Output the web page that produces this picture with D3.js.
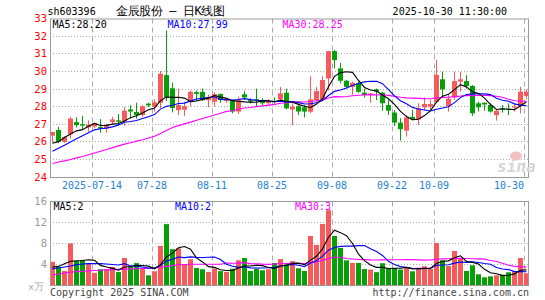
<!DOCTYPE html>
<html><head><meta charset="utf-8">
<script src="https://cdn.jsdelivr.net/npm/d3@7"></script>
<style>body{margin:0;background:#fff}svg{display:block}text{font-family:"DejaVu Sans Mono",monospace}</style>
</head><body><svg id="c" width="545" height="300"></svg>
<script>
// ---- data ----
const dates = ["2025-07-03","2025-07-04","2025-07-07","2025-07-08","2025-07-09","2025-07-10","2025-07-11","2025-07-14","2025-07-15","2025-07-16","2025-07-17","2025-07-18","2025-07-21","2025-07-22","2025-07-23","2025-07-24","2025-07-25","2025-07-28","2025-07-29","2025-07-30","2025-07-31",
"2025-08-01","2025-08-04","2025-08-05","2025-08-06","2025-08-07","2025-08-08","2025-08-11","2025-08-12","2025-08-13","2025-08-14","2025-08-15","2025-08-18","2025-08-19","2025-08-20","2025-08-21","2025-08-22","2025-08-25","2025-08-26","2025-08-27","2025-08-28","2025-08-29",
"2025-09-01","2025-09-02","2025-09-03","2025-09-04","2025-09-05","2025-09-08","2025-09-09","2025-09-10","2025-09-11","2025-09-12","2025-09-15","2025-09-16","2025-09-17","2025-09-18","2025-09-19","2025-09-22","2025-09-23","2025-09-24","2025-09-25","2025-09-26","2025-09-29","2025-09-30",
"2025-10-09","2025-10-10","2025-10-13","2025-10-14","2025-10-15","2025-10-16","2025-10-17","2025-10-20","2025-10-21","2025-10-22","2025-10-23","2025-10-24","2025-10-27","2025-10-28","2025-10-29","2025-10-30"];
const open  = [26.33,26.65,25.97,26.4,27.1,26.98,26.8,26.85,26.82,26.75,27.1,27.2,27.15,27.82,27.68,27.5,28.15,27.97,28.2,29.77,29.02,27.78,27.8,28.26,28.8,28.82,28.35,28.26,28.7,28.3,28.3,27.7,28.68,28.35,28.4,28.35,28.17,28.3,28.39,28.77,27.82,28.0,27.94,27.69,28.35,28.39,29.58,31.13,30.15,29.45,29.1,29.3,28.77,28.64,28.96,28.77,28.07,27.64,27.07,26.62,27.4,27.26,27.94,27.98,28.26,29.53,28.02,28.51,29.4,29.43,29.15,28.17,28.2,28.07,27.5,27.88,27.86,27.93,28.02,28.58];
const high  = [26.55,26.84,26.3,27.4,27.37,27.45,27.2,27.08,27.27,27.0,27.4,27.55,27.95,28.05,28.2,28.05,28.2,28.4,30.0,32.3,29.35,29.0,28.25,28.9,28.9,29.0,28.65,28.8,28.72,28.45,28.35,28.55,28.88,28.45,29.0,28.45,28.4,28.5,29.1,29.0,28.16,28.16,28.07,29.71,29.1,29.71,31.13,31.2,30.47,29.5,29.4,29.4,29.0,28.75,29.0,28.83,28.36,27.79,27.32,27.5,27.8,28.17,28.51,28.35,30.63,29.96,28.64,29.96,29.96,29.77,29.2,28.26,28.22,28.17,27.77,28.07,28.17,28.16,29.1,28.96];
const low   = [25.95,25.9,25.92,26.15,26.8,26.7,26.55,26.75,26.5,26.5,27.0,26.9,26.9,27.3,27.3,27.4,27.95,27.7,27.9,28.3,27.65,27.5,27.45,28.0,28.3,28.3,27.95,28.0,28.2,28.2,27.6,27.56,28.35,28.15,28.0,28.07,28.1,28.15,28.26,27.82,26.93,27.5,27.37,27.6,28.26,28.3,28.92,30.15,29.3,29.0,28.65,28.75,28.5,28.2,28.35,27.75,27.5,26.88,26.05,26.28,27.2,26.94,27.79,27.79,28.2,28.51,27.7,28.36,28.83,29.0,27.45,27.7,27.75,27.64,27.18,27.64,27.5,27.7,27.6,28.39];
const close = [26.54,25.99,26.25,27.3,26.93,26.9,26.95,27.05,26.72,26.95,27.25,27.12,27.75,27.7,27.5,28.0,28.05,28.22,29.85,28.5,27.9,28.07,28.0,28.82,28.7,28.35,28.5,28.69,28.35,28.35,27.7,28.35,28.5,28.27,28.3,28.17,28.3,28.25,28.73,27.88,27.97,27.7,27.7,28.39,28.86,29.49,31.13,30.62,29.45,29.1,29.33,28.82,28.64,28.73,28.83,28.17,27.75,27.07,26.7,27.37,27.27,27.88,28.13,28.13,29.78,28.96,28.43,29.43,29.53,29.15,27.6,27.94,28.1,27.7,27.75,27.8,27.8,27.98,28.83,28.83];
const volume = [4.47,3.5,2.74,7.97,4.6,4.8,4.15,2.36,3.06,3.06,3.5,2.52,5.22,3.56,4.23,3.34,1.9,2.68,7.5,11.65,6.88,7.05,3.9,4.96,3.3,3.05,2.54,3.2,2.7,2.55,3.17,4.76,5.2,2.73,3.17,2.86,3.05,4.25,5.0,4.0,4.6,3.24,2.73,9.4,7.68,11.68,14.3,9.4,7.1,4.76,4.25,4.25,3.1,3.0,2.5,4.2,3.2,3.3,3.0,3.4,2.67,3.37,3.62,3.17,8.06,4.76,3.68,6.54,5.08,2.73,3.81,2.1,1.52,1.71,1.9,2.03,2.48,2.73,5.2,2.29];
// moving-average values at the start of the window (earlier history not shown)
const ma5Head  = [25.9,25.99,26.23,26.42];
const ma10Head = [25.44,25.62,25.79,25.97,26.15,26.33,26.5,26.66,26.72];
const ma30Head = [24.75,24.83,24.9,24.98,25.07,25.15,25.25,25.35,25.45,25.55,25.65,25.75,25.85,25.93,26.02,26.1,26.2,26.3,26.45,26.62,26.8,26.9,27.0,27.1,27.2,27.3,27.4,27.5,27.6];
const vma5Head  = [3.5,3.6,4.1,4.57];
const vma10Head = [3.17,3.3,3.5,3.68,3.94,4.06,4.13,4.13,4.13];
const vma30Head = [1.95,2.15,2.35,2.5,2.6,2.68,2.75,2.82,2.88,2.93,2.98,3.03,3.08,3.12,3.16,3.2,3.24,3.3,3.45,3.6,3.75,3.9,3.95,4.0,4.0,4.0,4.0,4.0,4.0];
const tickDates  = ["2025-07-14","2025-07-28","2025-08-11","2025-08-25","2025-09-08","2025-09-22","2025-10-09","2025-10-30"];
const tickLabels = ["2025-07-14","07-28","08-11","08-25","09-08","09-22","10-09","10-30"];
const priceTicks = [24,25,26,27,28,29,30,31,32,33];
const volTicks = [4,8,12,16];
const priceMaLabels = ["MA5:28.20","MA10:27.99","MA30:28.25"];
const volMaLabels = ["MA5:2","MA10:2","MA30:3"];
const code = "sh603396", title = "金辰股份 – 日K线图", stamp = "2025-10-30 11:30:00";

// ---- chart ----
const svg = d3.select('#c');
const L = 50, R = 529, PT = 18.5, PB = 177, VT = 201.5, VB = 285.5;
const x = d3.scaleBand().domain(dates).range([L, R]).paddingInner(1/6).paddingOuter(0);
const bw = x.bandwidth();
const cx = d => x(d) + bw/2;
const yP = d3.scaleLinear().domain([24,33]).range([176.7,18.2]);
const yV = d3.scaleLinear().domain([0,16]).range([285.3,201.3]);
const RED = "#f65a5a", GREEN = "#079f07";
const rows = dates.map((d,i)=>({d,i,o:open[i],h:high[i],l:low[i],c:close[i],v:volume[i]}));
const colorOf = r => r.c >= r.o ? RED : GREEN;

function ma(arr, n, head){
  return arr.map((_,i)=> i < head.length ? head[i] : d3.mean(arr.slice(i-n+1,i+1)));
}

// grids
function grid(top, bottom, yScale, vals){
  const g = svg.append('g');
  g.selectAll('line.h').data(vals).join('line')
    .attr('x1',L).attr('x2',R).attr('y1',v=>Math.round(yScale(v))+0.5).attr('y2',v=>Math.round(yScale(v))+0.5)
    .attr('stroke','#aaa').attr('stroke-dasharray','1,2');
  g.selectAll('line.v').data(tickDates).join('line')
    .attr('x1',d=>Math.round(x(d))+0.5).attr('x2',d=>Math.round(x(d))+0.5).attr('y1',top).attr('y2',bottom)
    .attr('stroke','#aaa').attr('stroke-dasharray','5,4');
}
grid(PT, PB, yP, [25,26,27,28,29,30,31,32]);
grid(VT, VB, yV, [4,8,12]);

// candles
const cg = svg.append('g');
cg.selectAll('rect.w').data(rows).join('rect')
  .attr('x',r=>Math.round(cx(r.d)-0.5)).attr('width',1)
  .attr('y',r=>yP(r.h)).attr('height',r=>Math.max(1,yP(r.l)-yP(r.h)))
  .attr('fill',colorOf);
cg.selectAll('rect.b').data(rows).join('rect')
  .attr('x',r=>x(r.d)).attr('width',bw)
  .attr('y',r=>yP(Math.max(r.o,r.c))).attr('height',r=>Math.max(1,Math.abs(yP(r.o)-yP(r.c))))
  .attr('fill',colorOf);

// volume bars
svg.append('g').selectAll('rect').data(rows).join('rect')
  .attr('x',r=>x(r.d)).attr('width',bw)
  .attr('y',r=>yV(r.v)).attr('height',r=>yV(0)-yV(r.v))
  .attr('fill',colorOf);

// MA lines
function maLine(vals, yScale, color){
  const line = d3.line().x((v,i)=>cx(dates[i])).y(v=>yScale(v));
  svg.append('path').attr('d',line(vals)).attr('fill','none').attr('stroke',color).attr('stroke-width',1.1);
}
maLine(ma(close,30,ma30Head), yP, '#ff00ff');
maLine(ma(close,10,ma10Head), yP, '#0000ff');
maLine(ma(close,5,ma5Head), yP, '#000');
maLine(ma(volume,30,vma30Head), yV, '#ff00ff');
maLine(ma(volume,10,vma10Head), yV, '#0000ff');
maLine(ma(volume,5,vma5Head), yV, '#000');

// frames
svg.append('rect').attr('x',L+0.5).attr('y',PT+0.5).attr('width',R-L-1).attr('height',PB-PT).attr('fill','none').attr('stroke','#999');
svg.append('rect').attr('x',L+0.5).attr('y',VT).attr('width',R-L-1).attr('height',VB-VT).attr('fill','none').attr('stroke','#999');

// axes
const ap = svg.append('g').attr('transform','translate(47,0)')
  .call(d3.axisLeft(yP).tickValues(priceTicks).tickSize(0).tickPadding(0).tickFormat(d3.format('d')));
ap.select('.domain').remove();
ap.selectAll('text').attr('fill','#f00').attr('font-size',10.5).attr('font-family','"DejaVu Sans Mono",monospace');
const av = svg.append('g').attr('transform','translate(47,0)')
  .call(d3.axisLeft(yV).tickValues(volTicks).tickSize(0).tickPadding(0).tickFormat(d3.format('d')));
av.select('.domain').remove();
av.selectAll('text').attr('fill','#999').attr('font-size',10.5).attr('font-family','"DejaVu Sans Mono",monospace');
svg.append('text').attr('x',44).attr('y',290).attr('text-anchor','end').attr('fill','#aaa').attr('font-size',9.5)
  .attr('font-family','"Noto Sans CJK SC",sans-serif').text('x万');

const ax = svg.append('g').attr('transform',`translate(0,${PB})`)
  .call(d3.axisBottom(x).tickValues(tickDates).tickSize(0).tickPadding(5).tickFormat((d,i)=>tickLabels[i]));
ax.select('.domain').remove();
ax.selectAll('text').attr('fill','#1e7fd0').attr('font-size',10).attr('font-family','"DejaVu Sans Mono",monospace')
  .attr('x',-bw/2)
  .attr('text-anchor',(d,i)=> i===tickDates.length-1 ? 'end' : 'middle');

// labels
const maColors = ['#000','#0000ff','#ff00ff'];
const pmX = [52.5,167.5,282.5], vmX = [53.5,175,295];
priceMaLabels.forEach((t,i)=>svg.append('text').attr('x',pmX[i]).attr('y',27.5).attr('fill',maColors[i]).attr('font-size',10).text(t));
volMaLabels.forEach((t,i)=>svg.append('text').attr('x',vmX[i]).attr('y',210).attr('fill',maColors[i]).attr('font-size',10).text(t));

svg.append('text').attr('x',47.5).attr('y',15).attr('font-size',10).attr('fill','#000').text(code);
svg.append('text').attr('x',116).attr('y',14.5).attr('font-size',12).attr('fill','#000')
  .attr('font-family','"Noto Sans CJK SC",sans-serif').attr('textLength',109).attr('lengthAdjust','spacing').text(title);
svg.append('text').attr('x',507).attr('y',15).attr('text-anchor','end').attr('font-size',10).attr('fill','#000').text(stamp);

svg.append('text').attr('x',50).attr('y',296).attr('font-size',10).attr('fill','#444').text('Copyright 2025 SINA.COM');
svg.append('text').attr('x',529).attr('y',296).attr('text-anchor','end').attr('font-size',10).attr('fill','#444').text('http://finance.sina.com.cn');

// sina watermark
svg.append('ellipse').attr('cx',516).attr('cy',156).attr('rx',6).attr('ry',4.5).attr('fill','#f2c2c2');
svg.append('text').attr('x',497).attr('y',172).attr('font-size',16).attr('font-style','italic').attr('font-weight','bold')
  .attr('font-family','"DejaVu Sans",sans-serif').attr('fill','#d6d6d6').text('sina');
</script></body></html>
